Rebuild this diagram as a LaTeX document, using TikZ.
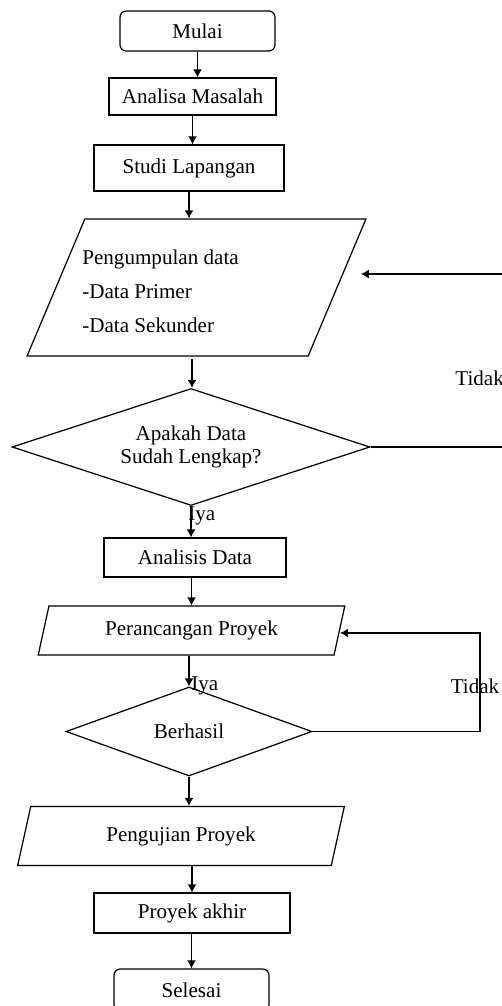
\documentclass[tikz,border=0pt]{standalone}
\usepackage{fontspec}
\setmainfont{Liberation Serif}
\usetikzlibrary{arrows.meta, shapes.geometric}

\tikzset{
    proses/.style={draw, rectangle, inner sep=2pt},
    terminal/.style={draw, rectangle, rounded corners=3.5pt, inner sep=2pt},
    masukan/.style={draw, trapezium, trapezium left angle=75.5, trapezium right angle=104.5,
        trapezium stretches, inner sep=2pt},
    keputusan/.style={draw, diamond, inner sep=0pt, align=center},
    teks/.style={inner sep=1pt}
}

\begin{document}
\begin{tikzpicture}[x=0.02cm, y=-0.02cm, line width=0.7pt,
        font=\fontsize{12}{13.5}\selectfont, >={Latex[length=4.5pt, width=5pt]}]
    \useasboundingbox (0,0) rectangle (501,1006);

    \node (mulai) [terminal, minimum width=3.1cm, minimum height=0.8cm] at (197.5,31) {Mulai};
    \node (analisa) [proses, minimum width=3.34cm, minimum height=0.74cm] at (192.5,96.5) {Analisa Masalah};
    \node (studi) [proses, minimum width=3.8cm, minimum height=0.92cm] at (189,168) {Studi Lapangan};
    \node (kumpul) [masukan, minimum width=6.78cm, minimum height=2.74cm] at (196.5,287.5) {};
    \node (kumpulteks) [teks, anchor=west, align=left, font=\fontsize{12}{19.3}\selectfont] at (80,291)
        {Pengumpulan data\\-Data Primer\\-Data Sekunder};
    \node (cek) [keputusan, minimum width=7.16cm, minimum height=2.34cm, aspect=3.06] at (191,447)
        {Apakah Data\\Sudah Lengkap?};
    \node (analisis) [proses, minimum width=3.64cm, minimum height=0.78cm] at (195,557.5) {Analisis Data};
    \node (rancang) [masukan, minimum width=6.14cm, minimum height=0.98cm] at (191.5,630.5) {Perancangan Proyek};
    \node (hasil) [keputusan, minimum width=4.92cm, minimum height=1.78cm, aspect=2.76] at (189,731.5) {Berhasil};
    \node (uji) [masukan, minimum width=6.56cm, minimum height=1.18cm] at (181,836) {Pengujian Proyek};
    \node (akhir) [proses, minimum width=3.92cm, minimum height=0.8cm] at (192,913) {Proyek akhir};
    \node (selesai) [terminal, minimum width=3.1cm, minimum height=0.84cm] at (191.5,990) {Selesai};

    % label cabang
    \node (iya1) [teks, anchor=west] at (186,516) {Iya};
    \node (iya2) [teks, anchor=west] at (189,686) {Iya};
    \node (tidak1) [teks, anchor=west] at (453,378) {Tidak};
    \node (tidak2) [teks] at (475,686) {Tidak};

    \coordinate (belok1) at (506,274);
    \coordinate (belok2) at (480,633);

    \draw [->] (mulai) -- (mulai |- analisa.north);
    \draw [->] (analisa) -- (analisa |- studi.north);
    \draw [->] (studi) -- (studi |- kumpul.north);
    \draw [->] (192,359) coordinate (kumpulbawah) -- (kumpulbawah |- cek.north);
    \draw [->] (cek.south) -- (cek.south |- analisis.north);
    \draw [->] (analisis) -- (analisis.south -| rancang.north) -- (rancang.north);
    \draw [->] (rancang.south -| hasil.north) -- (hasil.north);
    \draw [->] (hasil.south) -- (hasil.south |- uji.north);
    \draw [->] (uji.south -| akhir.north) -- (akhir.north);
    \draw [->] (akhir.south -| selesai.north) -- (selesai.north);

    % kembali bila tidak
    \draw [->] (cek.east) -| (belok1) -- ([xshift=-0.12cm]kumpul.top right corner |- belok1);
    \draw [->] (hasil.east) -| (belok2) -- (rancang.east |- belok2);
\end{tikzpicture}
\end{document}
